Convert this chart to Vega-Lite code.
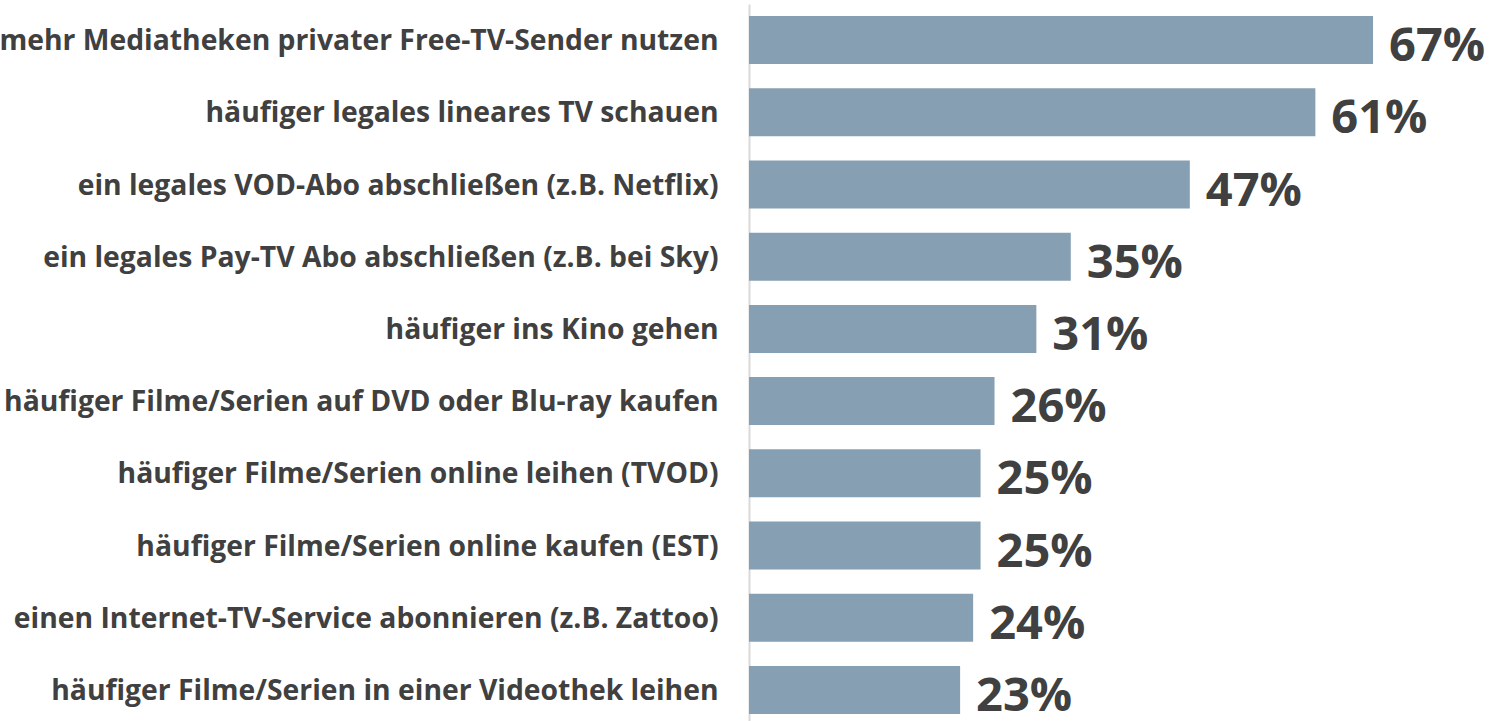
{
  "$schema": "https://vega.github.io/schema/vega-lite/v6.json",
  "autosize": {"type": "none"},
  "padding": {"left": 749, "top": 4, "right": 0, "bottom": 0},
  "width": 740,
  "height": 722,
  "background": "white",
  "config": {"view": {"stroke": null}, "font": "Open Sans"},
  "data": {"values": [
    {"cat": "mehr Mediatheken privater Free-TV-Sender nutzen", "v": 67.1, "label": "67%"},
    {"cat": "häufiger legales lineares TV schauen", "v": 60.9, "label": "61%"},
    {"cat": "ein legales VOD-Abo abschließen (z.B. Netflix)", "v": 47.4, "label": "47%"},
    {"cat": "ein legales Pay-TV Abo abschließen (z.B. bei Sky)", "v": 34.6, "label": "35%"},
    {"cat": "häufiger ins Kino gehen", "v": 30.9, "label": "31%"},
    {"cat": "häufiger Filme/Serien auf DVD oder Blu-ray kaufen", "v": 26.4, "label": "26%"},
    {"cat": "häufiger Filme/Serien online leihen (TVOD)", "v": 24.9, "label": "25%"},
    {"cat": "häufiger Filme/Serien online kaufen (EST)", "v": 24.9, "label": "25%"},
    {"cat": "einen Internet-TV-Service abonnieren (z.B. Zattoo)", "v": 24.1, "label": "24%"},
    {"cat": "häufiger Filme/Serien in einer Videothek leihen", "v": 22.7, "label": "23%"}
  ]},
  "encoding": {
    "y": {"field": "cat", "type": "nominal", "sort": null,
      "scale": {"paddingInner": 0.335, "paddingOuter": 0.1675},
      "axis": {"title": null, "ticks": false, "domainColor": "#d9d9d9", "domainWidth": 2,
        "labelFont": "Open Sans", "labelFontWeight": "bold", "labelFontSize": 28.3,
        "labelColor": "#404040", "labelPadding": 31, "labelLimit": 800, "labelOffset": 2}},
    "x": {"field": "v", "type": "quantitative", "scale": {"domain": [0, 79.57]}, "axis": null}
  },
  "layer": [
    {"mark": {"type": "bar", "color": "#879fb2"}},
    {"mark": {"type": "text", "align": "left", "baseline": "alphabetic", "dx": 16, "dy": 21,
      "font": "Open Sans", "fontWeight": "bold", "fontSize": 47, "color": "#404040"},
     "encoding": {"text": {"field": "label"}}}
  ]
}
